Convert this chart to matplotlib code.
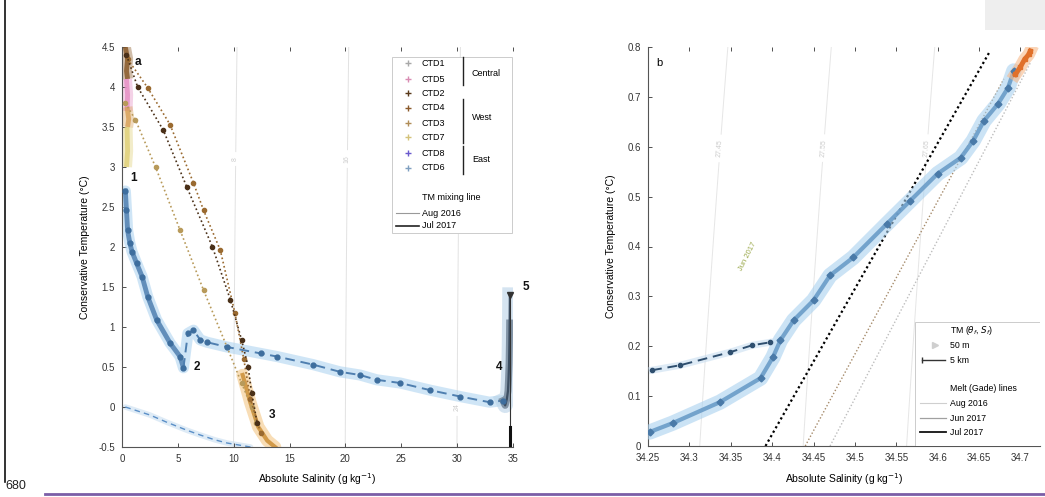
import numpy as np
import matplotlib
matplotlib.use("Agg")
import matplotlib.pyplot as plt
from matplotlib.lines import Line2D
from matplotlib.patches import Rectangle

plt.rcParams['font.family'] = ['Liberation Sans', 'DejaVu Sans']

# ---------------- panel (a) data ----------------
blue_S = [0.3, 0.4, 0.5, 0.7, 0.9, 1.3, 1.8, 2.3, 3.1, 4.3, 5.2, 5.5, 5.9, 6.4, 7.0, 7.6,
          9.4, 12.4, 13.9, 17.1, 19.5, 21.3, 22.8, 24.9, 27.6, 30.3, 32.9, 34.1]
blue_T = [2.70, 2.46, 2.21, 2.05, 1.94, 1.80, 1.63, 1.38, 1.09, 0.80, 0.63, 0.49, 0.92, 0.96,
          0.84, 0.81, 0.75, 0.67, 0.63, 0.53, 0.44, 0.40, 0.34, 0.30, 0.21, 0.13, 0.06, 0.08]

deep_S = [34.1, 34.3, 34.45, 34.55, 34.6, 34.65, 34.68, 34.7, 34.72]
deep_T = [0.08, 0.02, 0.10, 0.20, 0.35, 0.55, 0.80, 1.05, 1.40]
bottom_S = [34.7, 34.7]
bottom_T = [-0.5, -0.25]

ctd2_S = [0.4, 1.4, 3.7, 5.8, 8.1, 9.7, 10.7, 11.3, 11.6, 12.1]
ctd2_T = [4.40, 4.00, 3.46, 2.75, 2.00, 1.34, 0.84, 0.50, 0.18, -0.20]
ctd4_S = [0.5, 2.3, 4.3, 6.4, 7.3, 8.8, 10.1, 10.9, 11.5, 12.4]
ctd4_T = [4.35, 3.99, 3.53, 2.80, 2.46, 1.96, 1.18, 0.60, 0.10, -0.32]
ctd3_S = [0.3, 1.2, 3.0, 5.2, 7.3, 9.4, 10.7, 11.6, 12.0]
ctd3_T = [3.80, 3.59, 3.00, 2.21, 1.46, 0.75, 0.30, 0.00, -0.20]
halo_S = [10.8, 11.5, 12.2, 13.0, 13.7]
halo_T = [0.40, 0.05, -0.25, -0.42, -0.50]

band_brown_S = [0.3, 0.5, 0.4, 0.5]
band_brown_T = [4.50, 4.35, 4.20, 4.10]
band_pink_S = [0.4, 0.5, 0.45]
band_pink_T = [4.10, 3.90, 3.70]
band_tan_S = [0.45, 0.6, 0.5]
band_tan_T = [3.75, 3.60, 3.50]
band_yel_S = [0.45, 0.5, 0.4]
band_yel_T = [3.50, 3.20, 3.00]

mix_S = [0.3, 2.5, 4.0, 5.8, 7.0, 8.3, 9.4, 11.5]
mix_T = [0.00, -0.10, -0.19, -0.29, -0.35, -0.41, -0.45, -0.50]

sig_levels_a = [8, 16, 24]

a_xticks = [0, 5, 10, 15, 20, 25, 30, 35]
a_yticks = [-0.5, 0, 0.5, 1, 1.5, 2, 2.5, 3, 3.5, 4, 4.5]
a_yticklabels = ['-0.5', '0', '0.5', '1', '1.5', '2', '2.5', '3', '3.5', '4', '4.5']

point_labels = ['a', '1', '2', '3', '4', '5']
point_S = [1.4, 1.0, 6.7, 13.4, 33.8, 36.2]
point_T = [4.31, 2.86, 0.50, -0.10, 0.50, 1.50]

ctd_names = ['CTD1', 'CTD5', 'CTD2', 'CTD4', 'CTD3', 'CTD7', 'CTD8', 'CTD6']
ctd_colors = ['#a8a8a8', '#d98cb3', '#5a3a1a', '#8b5a2b', '#b08d57', '#d4c27a', '#6a5acd', '#7f9fc0']
groups = ['Central', 'West', 'East']

# ---------------- panel (b) data ----------------
b_blue_S = [34.252, 34.280, 34.337, 34.386, 34.401, 34.410, 34.426, 34.450, 34.470, 34.498,
            34.539, 34.567, 34.600, 34.628, 34.643, 34.656, 34.673, 34.685, 34.692]
b_blue_T = [0.028, 0.046, 0.088, 0.136, 0.178, 0.212, 0.252, 0.292, 0.342, 0.378,
            0.446, 0.492, 0.546, 0.578, 0.612, 0.652, 0.686, 0.718, 0.752]
b_up_S = [34.255, 34.289, 34.349, 34.376, 34.398]
b_up_T = [0.152, 0.162, 0.188, 0.202, 0.208]
b_or_S = [34.694, 34.700, 34.705, 34.710, 34.712]
b_or_T = [0.745, 0.760, 0.775, 0.785, 0.792]

gade_jul_S = [34.392, 34.662]
gade_jul_T = [0.0, 0.788]
gade_jun_S = [34.440, 34.680]
gade_jun_T = [0.0, 0.736]
gade_aug_S = [34.470, 34.712]
gade_aug_T = [0.0, 0.768]

sig_levels_b = [27.45, 27.55, 27.65]

b_xticks = [34.25, 34.3, 34.35, 34.4, 34.45, 34.5, 34.55, 34.6, 34.65, 34.7]
b_xticklabels = ['34.25', '34.3', '34.35', '34.4', '34.45', '34.5', '34.55', '34.6', '34.65', '34.7']
b_yticks = [0, 0.1, 0.2, 0.3, 0.4, 0.5, 0.6, 0.7, 0.8]
b_yticklabels = ['0', '0.1', '0.2', '0.3', '0.4', '0.5', '0.6', '0.7', '0.8']

# ---------------- figure ----------------
W, H = 1045, 497
fig = plt.figure(figsize=(W / 100, H / 100), dpi=100)


def px_axes(x0, y0, x1, y1):
    return fig.add_axes([x0 / W, 1 - y1 / H, (x1 - x0) / W, (y1 - y0) / H])


axA = px_axes(122, 47, 513, 447)
axB = px_axes(648, 47, 1040, 446)

for ax in (axA, axB):
    ax.tick_params(direction='in', length=3, width=0.6, labelsize=7, colors='#333333',
                   top=True, right=False, pad=5)
    for sp in ('left', 'bottom'):
        ax.spines[sp].set_color('#555555')
        ax.spines[sp].set_linewidth(0.8)
    for sp in ('top', 'right'):
        ax.spines[sp].set_visible(False)


def sigma(S, T):
    return 0.8 * S - 0.03 * T - 0.005 * T ** 2


# ---- panel a ----
ax = axA
ax.set_xlim(0, 35)
ax.set_ylim(-0.5, 4.5)
Sg, Tg = np.meshgrid(np.linspace(0, 35, 200), np.linspace(-0.5, 4.5, 100))
cs = ax.contour(Sg, Tg, sigma(Sg, Tg), levels=sig_levels_a, colors='#e2e2e2', linewidths=0.7, zorder=0)
ax.clabel(cs, fmt='%d', fontsize=5, colors='#cccccc', manual=[(10, 3.1), (20, 3.1), (30, 0.0)])

# bottom mixing line
ax.plot(mix_S, mix_T, color='#c9def0', lw=4, alpha=0.6, zorder=1, solid_capstyle='round')
ax.plot(mix_S, mix_T, color='#5b8fc7', lw=1.0, ls=(0, (4, 3)), zorder=2)

# orange halo
ax.plot(halo_S, halo_T, color='#f3c27a', lw=9, alpha=0.55, solid_capstyle='round', zorder=1)
ax.plot(halo_S, halo_T, color='#c98a2e', lw=3, alpha=0.8, zorder=2)

# surface bands
for s, t, c in [(band_brown_S, band_brown_T, '#8a5a2a'), (band_pink_S, band_pink_T, '#e58fc4'),
                (band_tan_S, band_tan_T, '#d9a25a'), (band_yel_S, band_yel_T, '#e0d07a')]:
    ax.plot(s, t, color=c, lw=8, alpha=0.4, solid_capstyle='butt', zorder=1)
    ax.plot(s, t, color=c, lw=3.5, alpha=0.85, solid_capstyle='butt', zorder=2)

# dotted CTD profiles
for s, t, c in [(ctd3_S, ctd3_T, '#b89a5a'), (ctd4_S, ctd4_T, '#9a6a30'), (ctd2_S, ctd2_T, '#4a3018')]:
    ax.plot(s, t, color=c, lw=1.2, ls=(0, (1, 1.6)), marker='o', ms=3, mfc=c, mec=c, zorder=3)

# blue profile
ax.plot(blue_S, blue_T, color='#a9d1ef', lw=8, alpha=0.55, solid_capstyle='round', zorder=2)
ax.plot(blue_S[:12], blue_T[:12], color='#4f7fb0', lw=3.5, alpha=0.85, zorder=3)
ax.plot(blue_S[11:], blue_T[11:], color='#4f7fb0', lw=1.4, ls=(0, (5, 3)), zorder=3)
ax.plot(blue_S, blue_T, ls='none', marker='o', ms=3.5, color='#3e6e9e', zorder=4)

# deep cluster
ax.plot(deep_S, deep_T, color='#b9d3e8', lw=11, alpha=0.6, zorder=2)
ax.plot(deep_S[:-1], deep_T[:-1], color='#6d8094', lw=5, alpha=0.8, zorder=3)
ax.plot(deep_S, deep_T, color='#3d4f63', lw=1.6, zorder=3)
ax.plot([34.7, 34.7], [-0.5, 1.4], color='#333333', lw=0.8, zorder=3)
ax.plot(bottom_S, bottom_T, color='#111111', lw=2.2, zorder=4)
ax.plot([deep_S[-1]], [deep_T[-1]], marker='v', color='#333333', ms=5, zorder=5, clip_on=False)

for lab, s, t in zip(point_labels, point_S, point_T):
    ax.text(s, t, lab, fontsize=8.5, fontweight='bold', ha='center', va='center',
            color='#111111', zorder=6, clip_on=False)

ax.set_xticks(a_xticks)
ax.set_yticks(a_yticks)
ax.set_yticklabels(a_yticklabels)
ax.set_xlabel('Absolute Salinity (g kg$^{-1}$)', fontsize=7.5, labelpad=5)
ax.set_ylabel('Conservative Temperature (°C)', fontsize=7.5, labelpad=6)

# legend a (manual)
ax.add_patch(Rectangle((0.69, 0.535), 0.307, 0.44, transform=ax.transAxes, fill=True,
                       fc='white', ec='#cccccc', lw=0.7, zorder=7))
rows_y = [0.96, 0.92, 0.885, 0.848, 0.81, 0.775, 0.735, 0.698]
for name, col, yy in zip(ctd_names, ctd_colors, rows_y):
    ax.plot([0.731], [yy], marker='+', ms=4, mew=1, color=col, transform=ax.transAxes, zorder=8)
    ax.text(0.767, yy, name, fontsize=6.5, va='center', transform=ax.transAxes, zorder=8)
for (y0, y1, ym), g in zip([(0.975, 0.905, 0.9325), (0.87, 0.76, 0.8225), (0.752, 0.682, 0.7175)], groups):
    ax.plot([0.872, 0.872], [y0, y1], color='#222222', lw=1.0, transform=ax.transAxes, zorder=8)
    ax.text(0.895, ym, g, fontsize=6.5, va='center', transform=ax.transAxes, zorder=8)
ax.text(0.767, 0.625, 'TM mixing line', fontsize=6.5, va='center', transform=ax.transAxes, zorder=8)
ax.plot([0.70, 0.76], [0.585, 0.585], color='#999999', lw=0.8, transform=ax.transAxes, zorder=8)
ax.text(0.767, 0.585, 'Aug 2016', fontsize=6.5, va='center', transform=ax.transAxes, zorder=8)
ax.plot([0.70, 0.76], [0.553, 0.553], color='#222222', lw=1.2, transform=ax.transAxes, zorder=8)
ax.text(0.767, 0.553, 'Jul 2017', fontsize=6.5, va='center', transform=ax.transAxes, zorder=8)

# ---- panel b ----
ax = axB
ax.set_xlim(34.25, 34.7237)
ax.set_ylim(0, 0.8)
Sg, Tg = np.meshgrid(np.linspace(34.25, 34.7237, 200), np.linspace(0, 0.8, 100))
cs = ax.contour(Sg, Tg, sigma(Sg, Tg), levels=sig_levels_b, colors='#e6e6e6', linewidths=0.7, zorder=0)
ax.clabel(cs, fmt='%.2f', fontsize=5, colors='#cccccc',
          manual=[(34.31, 0.6), (34.44, 0.6), (34.565, 0.6)])

ax.plot(gade_aug_S, gade_aug_T, color='#bdbdbd', lw=1.0, ls=(0, (1, 1.5)), zorder=2)
ax.plot(gade_jun_S, gade_jun_T, color='#a58a6a', lw=1.0, ls=(0, (1, 1.5)), zorder=2)
ax.plot(gade_jul_S, gade_jul_T, color='#000000', lw=1.6, ls=(0, (1, 1.3)), zorder=2)

ax.plot(b_blue_S, b_blue_T, color='#a9d1ef', lw=11, alpha=0.6, solid_capstyle='round', zorder=3)
ax.plot(b_blue_S, b_blue_T, color='#6a9cc8', lw=3, alpha=0.9, zorder=4)
ax.plot(b_blue_S, b_blue_T, ls='none', marker='D', ms=3.5, color='#4a7aa8', zorder=5)
ax.plot(b_up_S, b_up_T, color='#c9def0', lw=5, alpha=0.6, zorder=3)
ax.plot(b_up_S, b_up_T, color='#2f4f6f', lw=1.4, ls=(0, (5, 3)), marker='o', ms=3, zorder=5)
ax.plot(b_or_S, b_or_T, color='#f7b98a', lw=9, alpha=0.6, zorder=4)
ax.plot(b_or_S, b_or_T, color='#e0702a', lw=3.5, zorder=5, marker='s', ms=3)

ax.text(34.37, 0.38, 'Jun 2017', fontsize=5.5, color='#9aa84a', rotation=63,
        ha='center', va='center', zorder=3)
ax.text(34.264, 0.768, 'b', fontsize=8, ha='center', va='center', zorder=6)

ax.set_xticks(b_xticks)
ax.set_xticklabels(b_xticklabels)
ax.set_yticks(b_yticks)
ax.set_yticklabels(b_yticklabels)
ax.set_xlabel('Absolute Salinity (g kg$^{-1}$)', fontsize=7.5, labelpad=6)
ax.set_ylabel('Conservative Temperature (°C)', fontsize=7.5, labelpad=8)

# legend b (manual)
def bx(px):
    return (px - 648) / 392


def by(py):
    return (446 - py) / 400


ax.add_patch(Rectangle((bx(915), 0), 1.0 - bx(915), by(322), transform=ax.transAxes,
                       fc='white', ec='#cccccc', lw=0.7, zorder=7))
tx = bx(950)
ax.text(tx, by(330), 'TM ($\\theta_f$, $S_f$)', fontsize=6.3, va='center', transform=ax.transAxes, zorder=8)
ax.plot([bx(935)], [by(345)], marker='>', ms=4, color='#cfcfcf', transform=ax.transAxes, zorder=8)
ax.text(tx, by(345), '50 m', fontsize=6.3, va='center', transform=ax.transAxes, zorder=8)
ax.plot([bx(922), bx(945)], [by(360), by(360)], color='#333333', lw=1.0, transform=ax.transAxes, zorder=8)
ax.plot([bx(922)], [by(360)], marker='|', ms=4, color='#333333', transform=ax.transAxes, zorder=8)
ax.text(tx, by(360), '5 km', fontsize=6.3, va='center', transform=ax.transAxes, zorder=8)
ax.text(tx, by(388), 'Melt (Gade) lines', fontsize=6.3, va='center', transform=ax.transAxes, zorder=8)
for yy, lab, col, lw in [(403, 'Aug 2016', '#cfcfcf', 0.8), (418, 'Jun 2017', '#a0a0a0', 0.9),
                         (432, 'Jul 2017', '#111111', 1.3)]:
    ax.plot([bx(920), bx(946)], [by(yy), by(yy)], color=col, lw=lw, transform=ax.transAxes, zorder=8)
    ax.text(tx, by(yy), lab, fontsize=6.3, va='center', transform=ax.transAxes, zorder=8)

# ---- page artifacts ----
fig.add_artist(Line2D([5 / W, 5 / W], [1 - 482 / H, 1.0], color='#111111', lw=1.2))
fig.add_artist(Line2D([45 / W, 1.0], [1 - 494 / H, 1 - 494 / H], color='#7b5ea7', lw=2.0))
fig.add_artist(Rectangle((985 / W, 1 - 30 / H), 60 / W, 30 / H, color='#eeeeee', lw=0))
fig.text(5 / W, 1 - 486 / H, '680', fontsize=9, va='center', ha='left', color='#222222')

fig.savefig('out.png', dpi=100)
